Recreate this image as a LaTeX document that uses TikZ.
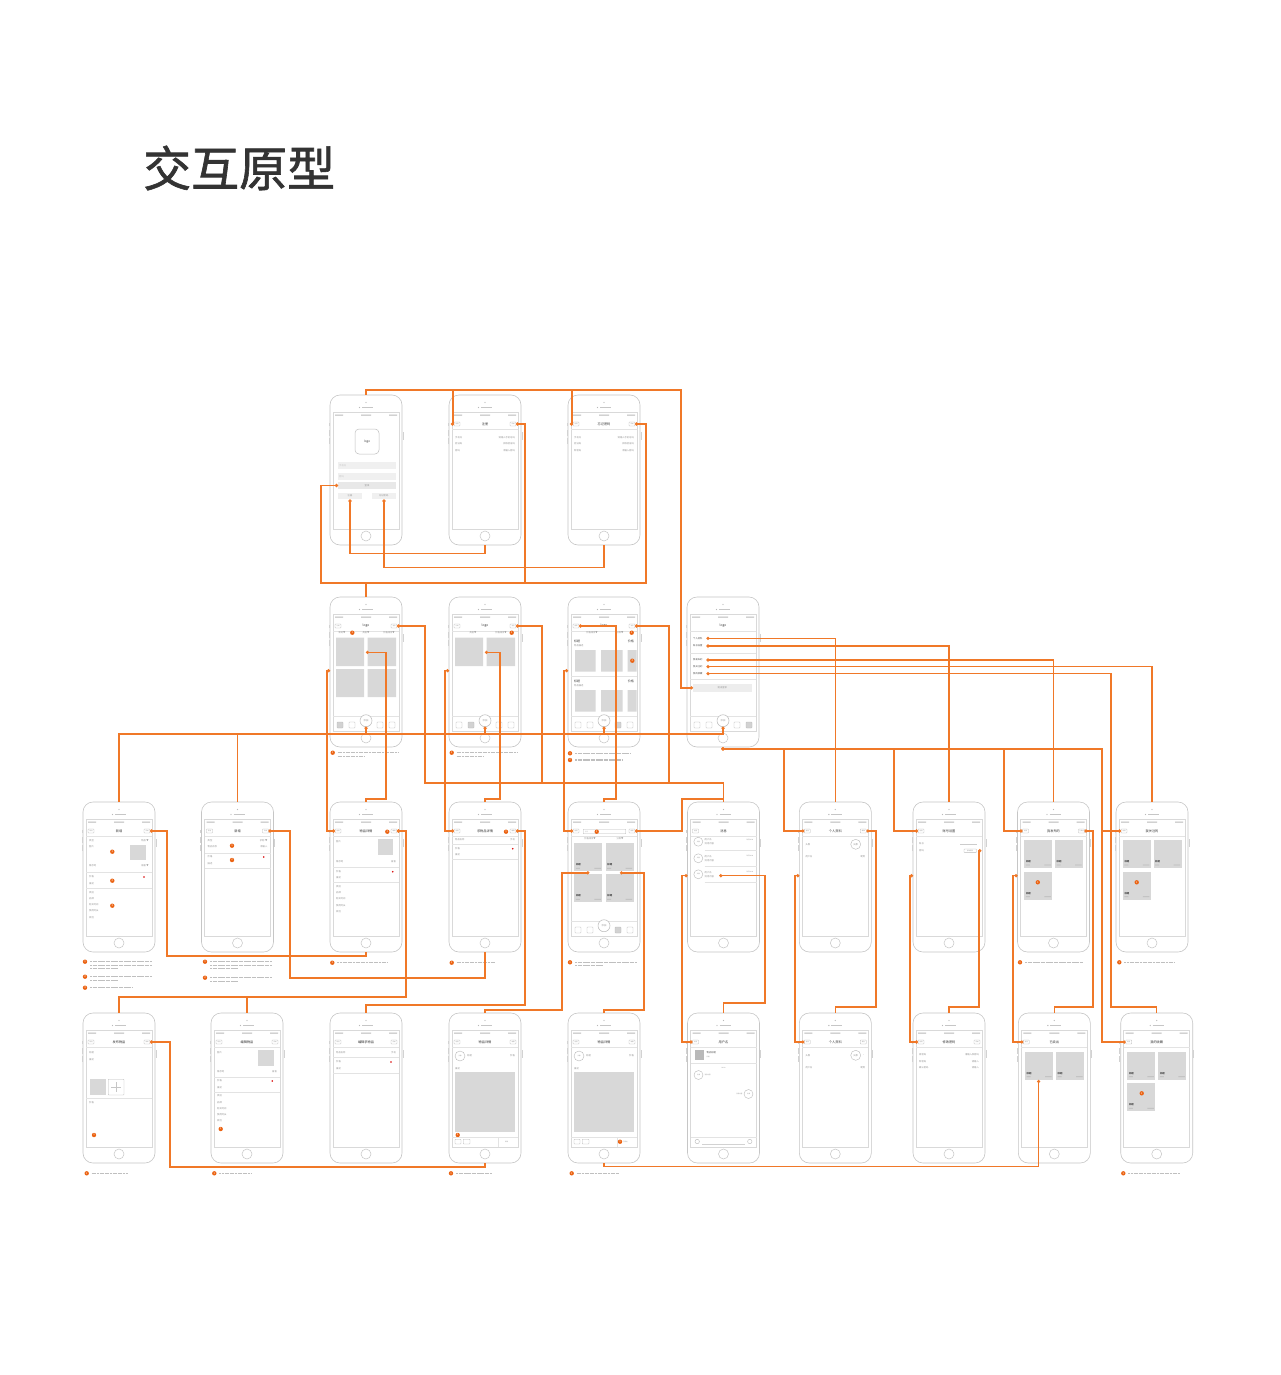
\documentclass[tikz,border=0pt]{standalone}
\usepackage{fontspec}
\setmainfont{Noto Sans CJK SC}
\newfontfamily\titlefont{Noto Sans CJK SC}[FakeBold=1.3]
\usetikzlibrary{arrows.meta}

\definecolor{wirec}{RGB}{240,120,40}
\definecolor{badgec}{RGB}{235,100,20}
\definecolor{cardc}{RGB}{216,216,216}
\definecolor{titlec}{RGB}{51,51,51}

% phone frame: name, x, y, screen content (local coordinates, y down)
\newcommand{\phone}[4]{%
  \begin{scope}[shift={(#2,#3)}]
    \node[phonebody] (#1) at (36,75) {};
    \draw[screenline] (3,17) rectangle (69,134);
    \fill[gray!55] (36,7.5) circle[radius=.6];
    \fill[gray!55] (29.5,12.5) circle[radius=.7];
    \draw[gray!45, line width=.6pt] (32,12.5) -- (43,12.5);
    \draw[gray!45, line width=.5pt] (36,141) circle[radius=5];
    \draw[gray!35, line width=.8pt] (-1,28) -- (-1,31) (-1,35) -- (-1,41) (-1,43) -- (-1,49) (73,37) -- (73,45);
    \fill[gray!55] (5,19.5) rectangle (13,20.5) (31,19.5) rectangle (41,20.5) (59,19.5) rectangle (67,20.5);
    \coordinate (#1-bk) at (5,29);
    \coordinate (#1-bkr) at (11,29);
    \coordinate (#1-rt) at (67,29);
    \coordinate (#1-lft) at (0,73.7);
    \coordinate (#1-add) at (36,129.7);
    #4
  \end{scope}}
\newcommand{\navtitle}[1]{\node[navtxt] at (36,29) {#1}; \draw[sepline] (3,34) -- (69,34);}
\newcommand{\backbtn}[1]{\draw[btnbox] (5,27) rectangle (11,31); \node[btntxt] at (8,29) {#1};}
\newcommand{\rightbtn}[1]{\draw[btnbox] (61,27) rectangle (67,31); \node[btntxt] at (64,29) {#1};}
\newcommand{\navbar}[3]{\navtitle{#1}\backbtn{#2}\rightbtn{#3}}
\newcommand{\lrow}[2]{\node[tinytxt, anchor=west] at (6,#1) {#2};}
\newcommand{\rrow}[2]{\node[tinytxt, anchor=east] at (66,#1) {#2};}
\newcommand{\sepl}[1]{\draw[sepline] (3,#1) -- (69,#1);}
\newcommand{\badge}[3]{\node[badge] at (#1,#2) {#3};}
\newcommand{\card}[2]{%
  \fill[cardc] (#1,#2) rectangle ++(28,28);
  \node[cardtxt, anchor=west] at ({#1+1.5},{#2+21.5}) {标题};
  \fill[gray!55] ({#1+1.5},{#2+24.6}) rectangle ++(4,.7) ({#1+20},{#2+24.6}) rectangle ++(6.5,.7);}
\newcommand{\tabbar}[1]{%
  \sepl{119}
  \foreach \tx [count=\ti] in {10,22,50,62}{%
    \ifnum\ti=#1 \filldraw[btnbox, fill=gray!35] (\tx-3,125) rectangle ++(6,6);
    \else \draw[btnbox] (\tx-3,125) rectangle ++(6,6); \fi}
  \draw[gray!55, line width=.5pt, fill=white] (36,123.7) circle[radius=6];
  \node[tinytxt] at (36,123.7) {添加};}
% numbered remark under a screen
\newcommand{\annot}[5]{%
  \node[badge] at (#1,#2) {#3};
  \foreach \k in {1,...,#4}{%
    \pgfmathsetmacro{\notelen}{(\k==#4 && #4>1) ? 0.45*#5 : #5}%
    \draw[notetxt] ({#1+5},{#2+3.4*(\k-1)}) -- ++(\notelen,0);}}

\begin{document}
\begin{tikzpicture}[x=1pt, y=-1pt,
  phonebody/.style={draw=gray!45, line width=.6pt, fill=white, rounded corners=10pt,
    minimum width=72pt, minimum height=150pt, inner sep=0},
  screenline/.style={draw=gray!30, line width=.5pt},
  sepline/.style={draw=gray!22, line width=.4pt},
  btnbox/.style={draw=gray!55, line width=.35pt, rounded corners=.6pt},
  btntxt/.style={font=\fontsize{1.5}{1.7}\selectfont, text=gray!85, inner sep=0},
  tinytxt/.style={font=\fontsize{2.3}{2.6}\selectfont, text=gray!85, inner sep=0},
  smalltxt/.style={font=\fontsize{3}{3.4}\selectfont, text=black!75, inner sep=0},
  cardtxt/.style={font=\fontsize{2.4}{2.6}\selectfont\bfseries, text=black!70, inner sep=0},
  navtxt/.style={font=\fontsize{3.2}{3.6}\selectfont, text=black!80, inner sep=0},
  badge/.style={circle, fill=badgec, text=white, inner sep=0, minimum size=4.4pt,
    font=\fontsize{2.6}{2.8}\selectfont},
  notetxt/.style={draw=gray!50, line width=1.2pt, dash pattern=on 2.1pt off .5pt},
  fieldc/.style={fill=gray!12},
  wire/.style={draw=wirec, line width=1.4pt, {Circle[length=3pt]}-},
  wire2/.style={draw=wirec, line width=1.4pt, {Circle[length=3pt]}-{Circle[length=3pt]}},
  link/.style={draw=wirec, line width=1.4pt}]

\useasboundingbox (0,0) rectangle (1280,1375);
\fill[white] (0,0) rectangle (1280,1375);

\node[font=\titlefont\fontsize{48}{50}\selectfont, text=titlec, anchor=west, inner sep=0] (title) at (143,168) {交互原型};

% ---------- row 1: login ----------
\phone{r1a}{330}{395}{%
  \draw[gray!50, line width=.5pt, rounded corners=4pt] (25,34) rectangle (49,59);
  \node[smalltxt] at (37,46.5) {logo};
  \fill[fieldc] (8,67) rectangle (66,74); \node[tinytxt, text=gray!45, anchor=west] at (9,70.5) {手机号};
  \fill[fieldc] (8,78) rectangle (66,85); \node[tinytxt, text=gray!45, anchor=west] at (9,81.5) {密码};
  \fill[gray!18] (8,87) rectangle (66,94); \node[tinytxt] at (37,90.5) {登录};
  \fill[fieldc] (8,97.5) rectangle (32,104); \node[tinytxt] at (20,100.7) {注册};
  \fill[fieldc] (41.5,97.5) rectangle (66,104); \node[tinytxt] at (53.7,100.7) {忘记密码};
  \coordinate (r1a-login) at (8,90.5);
  \coordinate (r1a-reg) at (20,104.5);
  \coordinate (r1a-fgt) at (54,104.5);}
\phone{r1b}{449}{395}{%
  \navbar{注册}{返回}{完成}
  \lrow{42.7}{手机号}\rrow{42.7}{请输入手机号码}
  \lrow{49}{验证码}\rrow{49}{获取验证码}
  \lrow{55.7}{密码}\rrow{55.7}{请输入密码}}
\phone{r1c}{568}{395}{%
  \navbar{忘记密码}{返回}{完成}
  \lrow{42.7}{手机号}\rrow{42.7}{请输入手机号码}
  \lrow{49}{验证码}\rrow{49}{获取验证码}
  \lrow{55.7}{新密码}\rrow{55.7}{请输入密码}}

% ---------- row 2: home pages ----------
\phone{r2a}{330}{597}{%
  \navbar{logo}{分类}{消息}
  \node[tinytxt] at (12,35.7) {新的▼}; \node[tinytxt] at (36,35.7) {类别▼}; \node[tinytxt] at (59,35.7) {价格排序▼};
  \fill[cardc] (6,40.7) rectangle (34,69) (37.7,40.7) rectangle (66,69) (6,72) rectangle (34,100) (37.7,72) rectangle (66,100);
  \badge{22.3}{35.7}{1}
  \coordinate (r2a-img) at (36,55.3);
  \tabbar{1}}
\phone{r2b}{449}{597}{%
  \navbar{logo}{分类}{消息}
  \node[tinytxt] at (24,35.7) {类别▼}; \node[tinytxt] at (52,35.7) {价格排序▼};
  \fill[cardc] (6,40.7) rectangle (34,69) (37.7,40.7) rectangle (66,69);
  \badge{62.7}{35.7}{1}
  \coordinate (r2b-img) at (36,55.3);
  \tabbar{2}}
\phone{r2c}{568}{597}{%
  \navbar{logo}{搜索}{消息}
  \node[tinytxt] at (24,35.7) {价格排序▼}; \node[tinytxt] at (52,35.7) {分类▼};
  \badge{63.7}{35.7}{1}
  \foreach \gy in {44.7,84.7}{%
    \node[smalltxt, anchor=west] at (6,\gy) {标题};
    \node[tinytxt, anchor=west] at (6,\gy+4) {物品描述};
    \node[smalltxt, anchor=east] at (66,\gy) {价格};
    \fill[cardc] (7,\gy+8.3) rectangle (27.7,\gy+30) (33,\gy+8.3) rectangle (54.7,\gy+30) (59.7,\gy+8.3) rectangle (68.7,\gy+30);}
  \sepl{79}
  \badge{64.3}{63.7}{2}
  \tabbar{3}}
\phone{r2d}{687}{597}{%
  \navtitle{logo}
  \foreach \my/\mt [count=\mi] in {41.3/个人资料, 49/账号设置, 63/我发布的, 69.7/我关注的, 76.7/我的收藏}{%
    \node[tinytxt, text=black!70, anchor=west] at (6,\my) {\mt};
    \coordinate (r2d-i\mi) at (19.5,\my);}
  \sepl{56} \sepl{82}
  \fill[gray!14] (6,87) rectangle (64.7,94.7); \node[tinytxt] at (35.3,90.8) {退出登录};
  \coordinate (r2d-out) at (6,90.8);
  \tabbar{4}}

\annot{332.7}{752.7}{1}{2}{60}
\annot{451.7}{752.7}{1}{2}{60}
\annot{570}{753.3}{1}{1}{55}
\annot{570}{760}{2}{1}{48}

% ---------- row 3 ----------
\phone{r3a}{83}{802}{%
  \navbar{新增}{取消}{完成}
  \lrow{39}{类型}\rrow{39}{物品 ▼}
  \lrow{45}{图片}\fill[cardc] (47,43) rectangle (63,58);
  \lrow{64}{储存地}\rrow{64}{宿舍 ▼}
  \sepl{70.3}
  \lrow{75}{价格}\fill[red!85!black] (61,75) circle[radius=.9];
  \lrow{81.7}{描述}
  \sepl{86.3}
  \lrow{90.3}{类别}\lrow{96.7}{品牌}\lrow{103}{购买时间}\lrow{109}{使用时长}\lrow{115.3}{其他}
  \badge{29.3}{49.7}{1}\badge{29.3}{78.7}{2}\badge{29.3}{103.7}{3}}
\phone{r3b}{201.5}{802}{%
  \navbar{新增}{取消}{完成}
  \lrow{39}{类型}\rrow{39}{求购 ▼}
  \lrow{44.7}{物品名称}\rrow{44.7}{请输入}
  \sepl{50.7}
  \lrow{55}{价格}\fill[red!85!black] (62.3,55) circle[radius=.9];
  \lrow{61.3}{描述}
  \sepl{66}
  \badge{30.5}{43.7}{1}\badge{30.5}{58}{2}}
\phone{r3c}{330}{802}{%
  \navbar{物品详情}{返回}{编辑}
  \badge{57.3}{29.7}{1}
  \lrow{40}{图片}\fill[cardc] (47.7,37.3) rectangle (63.3,53);
  \lrow{59.3}{储存地}\rrow{59.3}{宿舍}
  \sepl{65}
  \lrow{69.7}{价格}\fill[red!85!black] (62.7,69.7) circle[radius=.9];
  \lrow{76}{描述}
  \sepl{80.3}
  \lrow{84.3}{类别}\lrow{90.7}{品牌}\lrow{97}{购买时间}\lrow{103.3}{使用时长}\lrow{109.7}{其他}}
\phone{r3d}{449}{802}{%
  \navbar{求物品详情}{返回}{编辑}
  \badge{57}{29.7}{1}
  \lrow{37.7}{物品名称}\rrow{37.7}{手机}
  \sepl{42.3}
  \lrow{46.7}{价格}\fill[red!85!black] (63.7,46.7) circle[radius=.9];
  \lrow{53}{描述}
  \sepl{57.3}}
\phone{r3e}{568}{802}{%
  \backbtn{返回}\rightbtn{搜索}
  \draw[btnbox] (15.3,27.3) rectangle (57.7,31.7);
  \node[btntxt, text=gray!50, anchor=west] at (17,29.5) {搜索};
  \badge{28.7}{29.7}{1}
  \sepl{34}
  \node[tinytxt] at (22,36.8) {价格排序▼}; \node[tinytxt] at (52,36.8) {分类▼};
  \card{6.3}{41.3}\card{37.7}{41.3}\card{6.3}{72.3}\card{37.7}{72.3}
  \coordinate (r3e-im1) at (21.3,70.8);
  \coordinate (r3e-im2) at (52,70.8);
  \tabbar{3}}
\phone{r3f}{687.5}{802}{%
  \navtitle{消息}\backbtn{返回}
  \foreach \cy in {39.7,56.3,72.3}{%
    \draw[gray!55, line width=.4pt] (10.8,\cy) circle[radius=4.5];
    \node[btntxt] at (10.8,\cy) {头像};
    \node[tinytxt, anchor=west] at (17,\cy-2) {用户名};
    \node[tinytxt, anchor=west] at (17,\cy+2) {消息内容};
    \node[btntxt, anchor=east] at (66,\cy-2) {昨天10:00};
    \draw[sepline] (17,\cy+8) -- (69,\cy+8);}
  \coordinate (r3f-m3) at (31.8,73.7);}
\phone{r3g}{799.3}{802}{%
  \navbar{个人资料}{返回}{编辑}
  \lrow{42.3}{头像}
  \draw[gray!55, line width=.4pt] (56.4,42.3) circle[radius=5]; \node[tinytxt] at (56.4,42.3) {头像};
  \lrow{54.7}{用户名}\rrow{54.7}{昵称}}
\phone{r3h}{913}{802}{%
  \navtitle{账号设置}\backbtn{返回}
  \lrow{42}{账号}\fill[gray!40] (47,41.6) rectangle (63.7,42.4);
  \lrow{48.7}{密码}\draw[btnbox] (51,47) rectangle (63.5,50.4);
  \node[btntxt] at (57.2,48.7) {修改密码};
  \coordinate (r3h-pw) at (65.3,48.7);}
\phone{r3i}{1017.5}{802}{%
  \navbar{我发布的}{返回}{已卖出}
  \card{6.8}{38}\card{37.5}{38}\card{6.8}{69.7}
  \badge{20.3}{80.3}{1}}
\phone{r3j}{1116}{802}{%
  \navtitle{我关注的}\backbtn{返回}
  \card{6.8}{38}\card{37.5}{38}\card{6.8}{69.7}
  \badge{20.7}{80.3}{1}}

\annot{85}{961.7}{1}{3}{62}
\annot{85}{976.7}{2}{2}{62}
\annot{85}{987.7}{3}{1}{42}
\annot{205}{961.7}{1}{3}{62}
\annot{205}{977.7}{2}{2}{62}
\annot{332.3}{962.7}{1}{1}{50}
\annot{451.7}{962.7}{1}{1}{38}
\annot{570}{962.3}{1}{2}{62}
\annot{1020}{962.3}{1}{1}{58}
\annot{1119.3}{962.3}{1}{1}{50}

% ---------- row 4 ----------
\phone{r4a}{83}{1013}{%
  \navbar{发布物品}{取消}{发布}
  \lrow{39.7}{标题}\lrow{46.3}{描述}
  \fill[cardc] (7,66.3) rectangle (22.7,82);
  \draw[btnbox] (25.3,66.3) rectangle (41,82);
  \draw[gray!45, line width=.4pt] (33.15,69) -- (33.15,79.3) (28,74.15) -- (38.3,74.15);
  \sepl{84.7}
  \lrow{89.7}{价格}
  \badge{11}{122}{1}}
\phone{r4b}{211}{1013}{%
  \navbar{编辑物品}{取消}{完成}
  \lrow{39.7}{图片}\fill[cardc] (47.3,37) rectangle (63,52.7);
  \lrow{58.7}{储存地}\rrow{58.7}{宿舍}
  \sepl{63.7}
  \lrow{68}{价格}\fill[red!85!black] (61.3,68) circle[radius=.9];
  \lrow{74.3}{描述}
  \sepl{78.7}
  \lrow{83}{类别}\lrow{89.3}{品牌}\lrow{95.7}{购买时间}\lrow{101.7}{使用时长}\lrow{107.7}{其他}
  \badge{9.7}{116}{1}}
\phone{r4c}{330}{1013}{%
  \navbar{编辑求物品}{取消}{完成}
  \lrow{39.7}{物品名称}\rrow{39.7}{手机}
  \sepl{44.3}
  \lrow{49}{价格}\fill[red!85!black] (61,49) circle[radius=.9];
  \lrow{55.3}{描述}
  \sepl{59.7}}
\phone{r4d}{449}{1013}{%
  \navbar{物品详情}{返回}{收藏}
  \draw[gray!55, line width=.4pt] (11,43) circle[radius=5]; \node[btntxt] at (11,43) {头像};
  \node[tinytxt, anchor=west] at (18,43) {标题}; \rrow{43}{价格}
  \lrow{55.3}{描述}
  \fill[cardc] (6,58.7) rectangle (66,118.7);
  \badge{8.7}{122}{1}
  \sepl{124.3}
  \draw[btnbox] (6,126.3) rectangle (12,131); \draw[btnbox] (14.3,126.3) rectangle (21,131);
  \draw[sepline] (49.3,124.3) -- (49.3,134);
  \node[btntxt] at (57.6,128.7) {私聊};}
\phone{r4e}{568}{1013}{%
  \navbar{物品详情}{返回}{收藏}
  \draw[gray!55, line width=.4pt] (11,43) circle[radius=5]; \node[btntxt] at (11,43) {头像};
  \node[tinytxt, anchor=west] at (18,43) {标题}; \rrow{43}{价格}
  \lrow{55.3}{描述}
  \fill[cardc] (6,58.7) rectangle (66,118.7);
  \sepl{124.3}
  \draw[btnbox] (6,126.3) rectangle (12,131); \draw[btnbox] (14.3,126.3) rectangle (21,131);
  \draw[sepline] (49.3,124.3) -- (49.3,134);
  \badge{52}{128.7}{1}
  \node[btntxt, anchor=west] at (55,128.7) {已卖出};}
\phone{r4f}{687.5}{1013}{%
  \navtitle{用户名}\backbtn{返回}
  \fill[gray!55] (7.3,37) rectangle (16.3,47);
  \node[tinytxt, text=black!70, anchor=west] at (19,39.5) {物品标题};
  \node[btntxt, anchor=west] at (19,44) {价格};
  \sepl{50.3}
  \node[btntxt] at (36,54.7) {10:00};
  \draw[gray!55, line width=.4pt] (11,62) circle[radius=4.5]; \node[btntxt] at (11,62) {头像};
  \node[btntxt, anchor=west] at (17,62) {消息内容};
  \draw[gray!55, line width=.4pt] (61,81) circle[radius=4.5]; \node[btntxt] at (61,81) {头像};
  \node[btntxt, anchor=east] at (55,81) {消息内容};
  \sepl{124}
  \draw[gray!55, line width=.4pt] (9.7,128.5) circle[radius=2.2] (62.3,128.5) circle[radius=2.2];
  \draw[gray!35, line width=.4pt] (14.5,131) -- (57.5,131);}
\phone{r4g}{799.3}{1013}{%
  \navbar{个人资料}{返回}{保存}
  \lrow{42.3}{头像}
  \draw[gray!55, line width=.4pt] (56.4,42.3) circle[radius=5]; \node[tinytxt] at (56.4,42.3) {头像};
  \node[btntxt] at (64.5,42.3) {>};
  \lrow{54.7}{用户名}\rrow{54.7}{昵称}}
\phone{r4h}{913}{1013}{%
  \navbar{修改密码}{返回}{完成}
  \lrow{42}{原密码}\rrow{42}{请输入原密码}
  \lrow{48.3}{新密码}\rrow{48.3}{请输入}
  \lrow{54.7}{确认密码}\rrow{54.7}{请输入}}
\phone{r4i}{1018.3}{1013}{%
  \navtitle{已卖出}\backbtn{返回}
  \card{6.7}{38.7}\card{37.7}{38.7}
  \coordinate (r4i-im) at (20.3,67);}
\phone{r4j}{1120.7}{1013}{%
  \navtitle{我的收藏}\backbtn{返回}
  \card{6.6}{38.7}\card{37.6}{38.7}\card{6.6}{70.3}
  \badge{21}{80.3}{1}}

\annot{86.7}{1173.3}{1}{1}{36}
\annot{214.3}{1173.3}{1}{1}{32}
\annot{451}{1173.3}{1}{1}{36}
\annot{571.7}{1173.3}{1}{1}{42}
\annot{1123.3}{1173.3}{1}{1}{52}

% ---------- connectors ----------
% back to login
\draw[wire] (r2d-out) -| (681,390) -| (r1a.north);
\draw[wire] (r1b-bk) -| (453,390);
\draw[wire] (r1c-bk) -| (572,390);
% into home page
\draw[wire] (r1a-login) -| (321,583) -| (r2a.north);
\draw[wire] (r1b-rt) -| (525,583);
\draw[wire] (r1c-rt) -| (646,583) -- (366,583);
\draw[wire] (r1a-reg) |- ([yshift=-8pt]r1b.south) -- (r1b.south);
\draw[wire] (r1a-fgt) |- ([yshift=-22pt]r1c.south) -- (r1c.south);
% add buttons
\draw[wire] (r2d-add) |- (119,734) -- (r3a.north);
\draw[wire] (r2a-add) -- ++(0,7.3);
\draw[wire] (r2b-add) -- ++(0,7.3);
\draw[wire] (r2c-add) -- ++(0,7.3);
\draw[link] (237.5,734) -- (r3b.north);
% messages
\draw[wire] (r2a-rt) -| (425,783) -| (r3f.north);
\draw[wire] (r2b-rt) -| (542,783);
\draw[wire] (r2c-rt) -| (669,783);
% back from row 3
\draw[wire2] (r2a-lft) -| (327,831) -- (r3c-bk);
\draw[wire2] (r2b-lft) -| (445,831) -- (r3d-bk);
\draw[wire2] (r2c-lft) -| (564,831) -- (r3e-bk);
% details and search
\draw[wire] (r2a-img) -| (386,799) -| (r3c.north);
\draw[wire] (r2b-img) -| (500,799) -| (r3d.north);
\draw[wire] (r2c-bkr) -| (616,799) -| (r3e.north);
% personal menu
\draw[wire] (r2d-i1) -| (r3g.north);
\draw[wire] (r2d-i2) -| (r3h.north);
\draw[wire] (r2d-i3) -| (r3i.north);
\draw[wire] (r2d-i4) -| (r3j.north);
\draw[wire] (r2d-i5) -| (1111,1007) -| (r4j.north);
\draw[wire2] (r2d.south) -- ++(0,1.5) -| (784,831) -- (r3g-bk);
\draw[wire2] (r2d.south) -- ++(0,1.5) -| (894,831) -- (r3h-bk);
\draw[wire2] (r2d.south) -- ++(0,1.5) -| (1004,831) -- (r3i-bk);
\draw[wire2] (r2d.south) -- ++(0,1.5) -| (1102,831) -- (r3j-bk);
% row 3 to row 3 / row 4
\draw[wire] (r3a-rt) -| (167,956) -| (r3c.south);
\draw[wire] (r3b-rt) -| (290,978) -| (r3d.south);
\draw[wire] (r3c-rt) -| (406,997) -| (r4a.north);
\draw[wire] (r3c-rt) -| (406,997) -| (r4b.north);
\draw[wire] (r3d-rt) -| (525,1005) -| (r4c.north);
\draw[wire] (r3e-im1) -| (562,1010) -| (r4d.north);
\draw[wire] (r3e-im2) -| (644,1010) -| (r4e.north);
\draw[wire] (r3e-rt) -| (682,799) -| (r3f.north);
\draw[wire2] (r3f-lft) -| (682,1042) -- (r4f-bk);
\draw[wire] (r3f-m3) -| (765,1003) -| (r4f.north);
\draw[wire] (r3g-rt) -| (876,1007) -| (r4g.north);
\draw[wire] (r3h-pw) -| (979,1007) -| (r4h.north);
\draw[wire] (r3i-rt) -| (1093,1007) -| (r4i.north);
\draw[wire2] (r3g-lft) -| (795,1042) -- (r4g-bk);
\draw[wire2] (r3h-lft) -| (910,1042) -- (r4h-bk);
\draw[wire2] (r3i-lft) -| (1013,1042) -- (r4i-bk);
\draw[wire] (r4j-bk) -| (1102,831);
% row 4 to details
\draw[wire] (r4a-rt) -| (170,1167) -| (r4d.south);
\draw[wire] (r4i-im) |- ([yshift=-3pt]r4e.south) -- (r4e.south);
\end{tikzpicture}
\end{document}
